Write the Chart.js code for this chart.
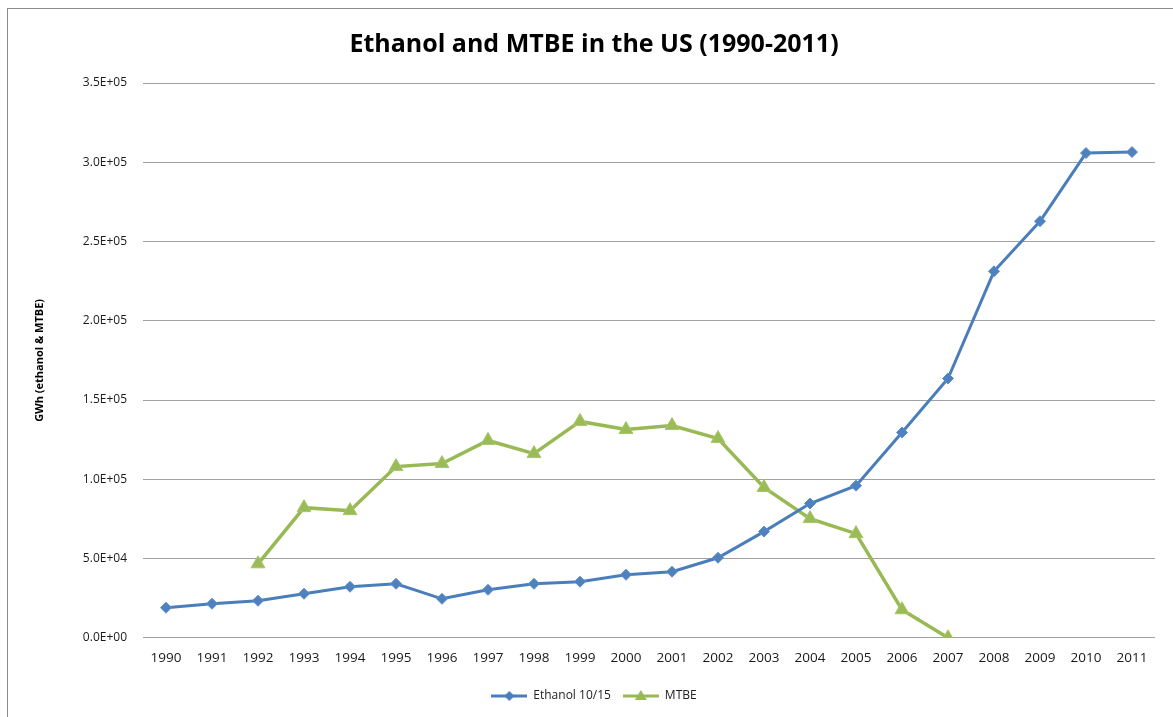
<!DOCTYPE html>
<html>
<head>
<meta charset="utf-8">
<script src="https://cdn.jsdelivr.net/npm/chart.js@4"></script>
<style>
    html, body { margin: 0; padding: 0; background: #fff; }
    #wrap { position: relative; width: 1173px; height: 717px; }
    #frame { position: absolute; left: 7px; top: 8px; width: 1180px; height: 720px; border: 1px solid #8c8c8c; box-sizing: border-box; }
    #chartCanvas { position: absolute; left: 0; top: 0; }
</style>
</head>
<body>
<div id="wrap">
    <div id="frame"></div>
    <canvas id="chartCanvas" width="1173" height="717"></canvas>
</div>
<script>
const years = ["1990", "1991", "1992", "1993", "1994", "1995", "1996", "1997", "1998", "1999", "2000",
    "2001", "2002", "2003", "2004", "2005", "2006", "2007", "2008", "2009", "2010", "2011"];

const ethanol = [19000, 21500, 23400, 27800, 32200, 34100, 24600, 30300, 34100, 35400, 39800,
    41700, 50500, 67000, 84700, 96000, 129500, 163600, 231200, 262800, 305800, 306400];

const mtbe = [null, null, 46700, 82100, 80200, 108000, 109900, 124500, 116200, 136500, 131400,
    133900, 125700, 94800, 75200, 65700, 17700, 0, null, null, null, null];

const yTicks = [0, 50000, 100000, 150000, 200000, 250000, 300000, 350000];

// formato tipo Excel: 3.5E+05
function sciLabel(v) {
    if (v === 0) return "0.0E+00";
    const exp = Math.floor(Math.log10(v));
    const mant = v / Math.pow(10, exp);
    return mant.toFixed(1) + "E+" + String(exp).padStart(2, "0");
}

// icono de leyenda: linea con marcador
function legendIcon(color, marker) {
    const c = document.createElement("canvas");
    c.width = 36;
    c.height = 14;
    const ctx = c.getContext("2d");
    ctx.strokeStyle = color;
    ctx.fillStyle = color;
    ctx.lineWidth = 3;
    ctx.beginPath();
    ctx.moveTo(0, 7);
    ctx.lineTo(36, 7);
    ctx.stroke();
    ctx.beginPath();
    if (marker === "diamond") {
        ctx.moveTo(18, 2); ctx.lineTo(23, 7); ctx.lineTo(18, 12); ctx.lineTo(13, 7);
    } else {
        ctx.moveTo(18, 1); ctx.lineTo(24, 11); ctx.lineTo(12, 11);
    }
    ctx.closePath();
    ctx.fill();
    return c;
}

const fontFam = "'Open Sans', 'Liberation Sans', sans-serif";
const icons = [legendIcon("#4a7ebb", "diamond"), legendIcon("#98b954", "triangle")];

new Chart(document.getElementById("chartCanvas"), {
    type: "line",
    data: {
        labels: years,
        datasets: [{
            label: "Ethanol 10/15",
            data: ethanol,
            borderColor: "#4a7ebb",
            backgroundColor: "#4f81bd",
            borderWidth: 3,
            pointStyle: "rectRot",
            pointRadius: 5.5,
            pointBorderWidth: 1,
            pointBorderColor: "#5b8fd0",
            tension: 0
        }, {
            label: "MTBE",
            data: mtbe,
            borderColor: "#98b954",
            backgroundColor: "#9bbb59",
            borderWidth: 3.5,
            pointStyle: "triangle",
            pointRadius: 8,
            pointBorderWidth: 1,
            pointBorderColor: "#a6c866",
            tension: 0
        }]
    },
    options: {
        responsive: false,
        animation: false,
        layout: { padding: { left: 33, right: 18, top: 30, bottom: 5 } },
        plugins: {
            title: {
                display: true,
                text: "Ethanol and MTBE in the US (1990-2011)",
                color: "#000",
                font: { family: fontFam, size: 25, weight: "bold" },
                padding: { top: 0, bottom: 23 }
            },
            legend: {
                position: "bottom",
                labels: {
                    usePointStyle: true,
                    pointStyleWidth: 36,
                    boxWidth: 36,
                    boxHeight: 14,
                    color: "#222",
                    font: { family: fontFam, size: 12 },
                    padding: 12,
                    generateLabels: (chart) => chart.data.datasets.map((ds, i) => ({
                        text: ds.label,
                        pointStyle: icons[i],
                        fillStyle: ds.backgroundColor,
                        strokeStyle: ds.borderColor,
                        lineWidth: 0,
                        fontColor: "#222",
                        datasetIndex: i
                    }))
                }
            },
            tooltip: { enabled: false }
        },
        scales: {
            x: {
                offset: true,
                grid: { display: false, drawTicks: false },
                border: { display: false },
                ticks: { color: "#1a1a1a", font: { family: fontFam, size: 13.5 }, padding: 12, maxRotation: 0, autoSkip: false }
            },
            y: {
                min: 0,
                max: 350000,
                afterBuildTicks: (scale) => { scale.ticks = yTicks.map(v => ({ value: v })); },
                afterFit: (scale) => { scale.width = 110; },
                grid: { color: "#a0a0a0", lineWidth: 1, drawTicks: false },
                border: { display: false },
                ticks: {
                    color: "#1a1a1a",
                    font: { family: fontFam, size: 12 },
                    padding: 16,
                    callback: (v) => sciLabel(v)
                },
                title: {
                    display: true,
                    text: "GWh (ethanol & MTBE)",
                    color: "#000",
                    font: { family: fontFam, size: 11, weight: "bold" },
                    padding: { top: 0, bottom: 14 }
                }
            }
        }
    }
});
</script>
</body>
</html>
